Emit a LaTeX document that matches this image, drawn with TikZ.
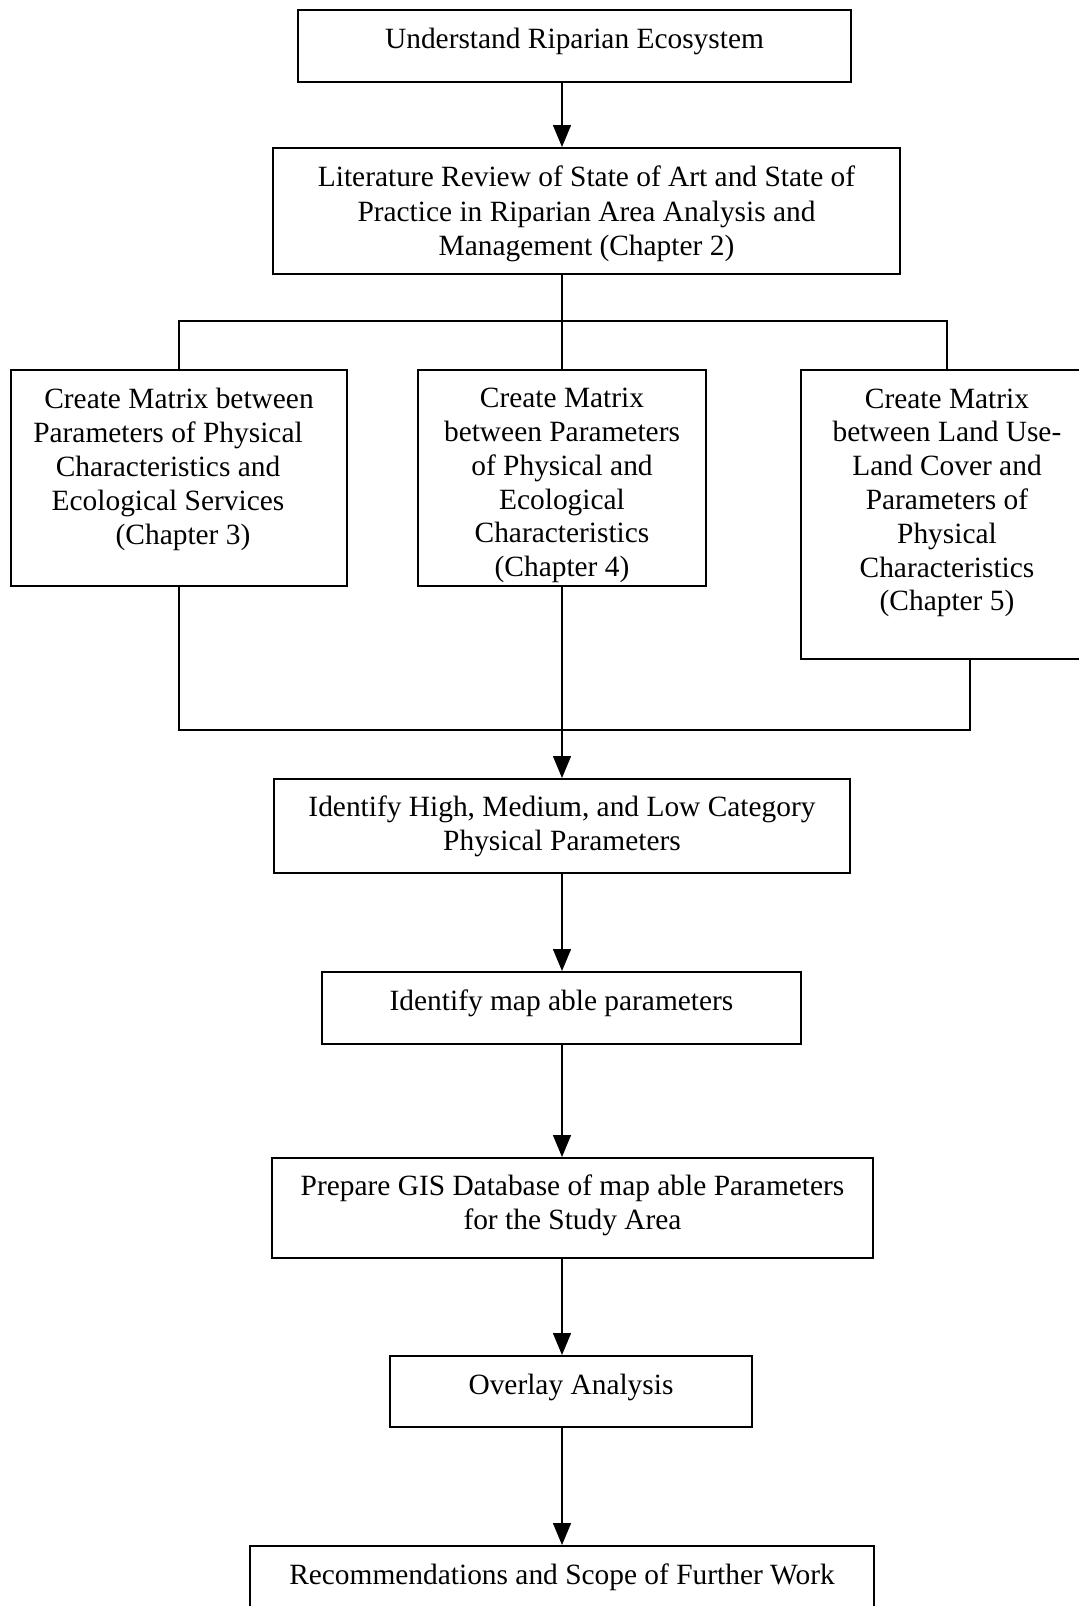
\documentclass[tikz,border=0pt]{standalone}
\usepackage{fontspec}
\setmainfont{Liberation Serif}
\usetikzlibrary{arrows.meta}
\tikzset{
BOX/.style 2 args={draw=black,line width=1pt,minimum width=#1*0.5pt,minimum height=#2*0.5pt,inner sep=0pt,align=center,font=\fontsize{14.7}{16.9}\selectfont},
LINK/.style ={draw=black,line width=0.7pt},
ARROWLINK/.style ={LINK,-{Triangle[length=11pt,width=9pt]}},
}
\begin{document}
\begin{tikzpicture}[x=0.5pt,y=-0.5pt] %research flow
	\useasboundingbox (0,0) rectangle (1079,1606);
	\node[BOX={553}{72}] (eco) at (574.5,46) {Understand Riparian Ecosystem\\[-9.1pt]};
	\node[BOX={627}{126},font=\fontsize{14.7}{17.4}\selectfont] (lit) at (586.5,211) {\mbox{}\\[-4.1pt]Literature Review of State of Art and State of\\Practice in Riparian Area Analysis and\\Management (Chapter 2)};
	\node[BOX={336}{216}] (matA) at (179,478) {Create Matrix between\\Parameters of Physical\hspace*{11pt}\mbox{}\\Characteristics and\hspace*{11pt}\mbox{}\\Ecological Services\hspace*{11pt}\mbox{}\\\hspace*{4pt}(Chapter 3)\\[-5.1pt]};
	\node[BOX={288}{216}] (matB) at (562,478) {\mbox{}\\[0.5pt]Create Matrix\\between Parameters\\of Physical and\\Ecological\\Characteristics\\(Chapter 4)};
	\node[BOX={292}{289}] (matC) at (947,514.5) {Create Matrix\\between Land Use-\\Land Cover and\\Parameters of\\Physical\\Characteristics\\(Chapter 5)\\[-2.1pt]};
	\node[BOX={576}{94}] (cat) at (562,826) {Identify High, Medium, and Low Category\\Physical Parameters};
	\node[BOX={479}{72}] (map) at (561.5,1008) {Identify map able parameters\\[-8.7pt]};
	\node[BOX={601}{100}] (gis) at (572.5,1208) {Prepare GIS Database of map able Parameters\\for the Study Area\\[-11.3pt]};
	\node[BOX={362}{71}] (ovl) at (571,1391.5) {Overlay Analysis\\[-9.7pt]};
	\node[BOX={624}{76}] (rec) at (562,1584) {Recommendations and Scope of Further Work\\[-6.7pt]};
	% split and merge points
	\coordinate (split) at (562,321);
	\coordinate (merge) at (562,730);
	\coordinate (outC) at (970,659);
	\path[ARROWLINK] (eco.south -| split) -- (lit.north -| split);
	\path[LINK] (lit.south -| split) -- (split);
	\path[LINK] (split) -| (matA.north);
	\path[LINK] (split) -- (matB.north);
	\path[LINK] (split) -| (matC.north);
	\path[LINK] (matA.south) |- (merge);
	\path[LINK] (outC) |- (merge);
	\path[ARROWLINK] (matB.south) -- (cat.north);
	\path[ARROWLINK] (cat.south) -- (map.north -| cat.south);
	\path[ARROWLINK] (map.south -| cat.south) -- (gis.north -| cat.south);
	\path[ARROWLINK] (gis.south -| cat.south) -- (ovl.north -| cat.south);
	\path[ARROWLINK] (ovl.south -| cat.south) -- (rec.north);
\end{tikzpicture}
\end{document}
